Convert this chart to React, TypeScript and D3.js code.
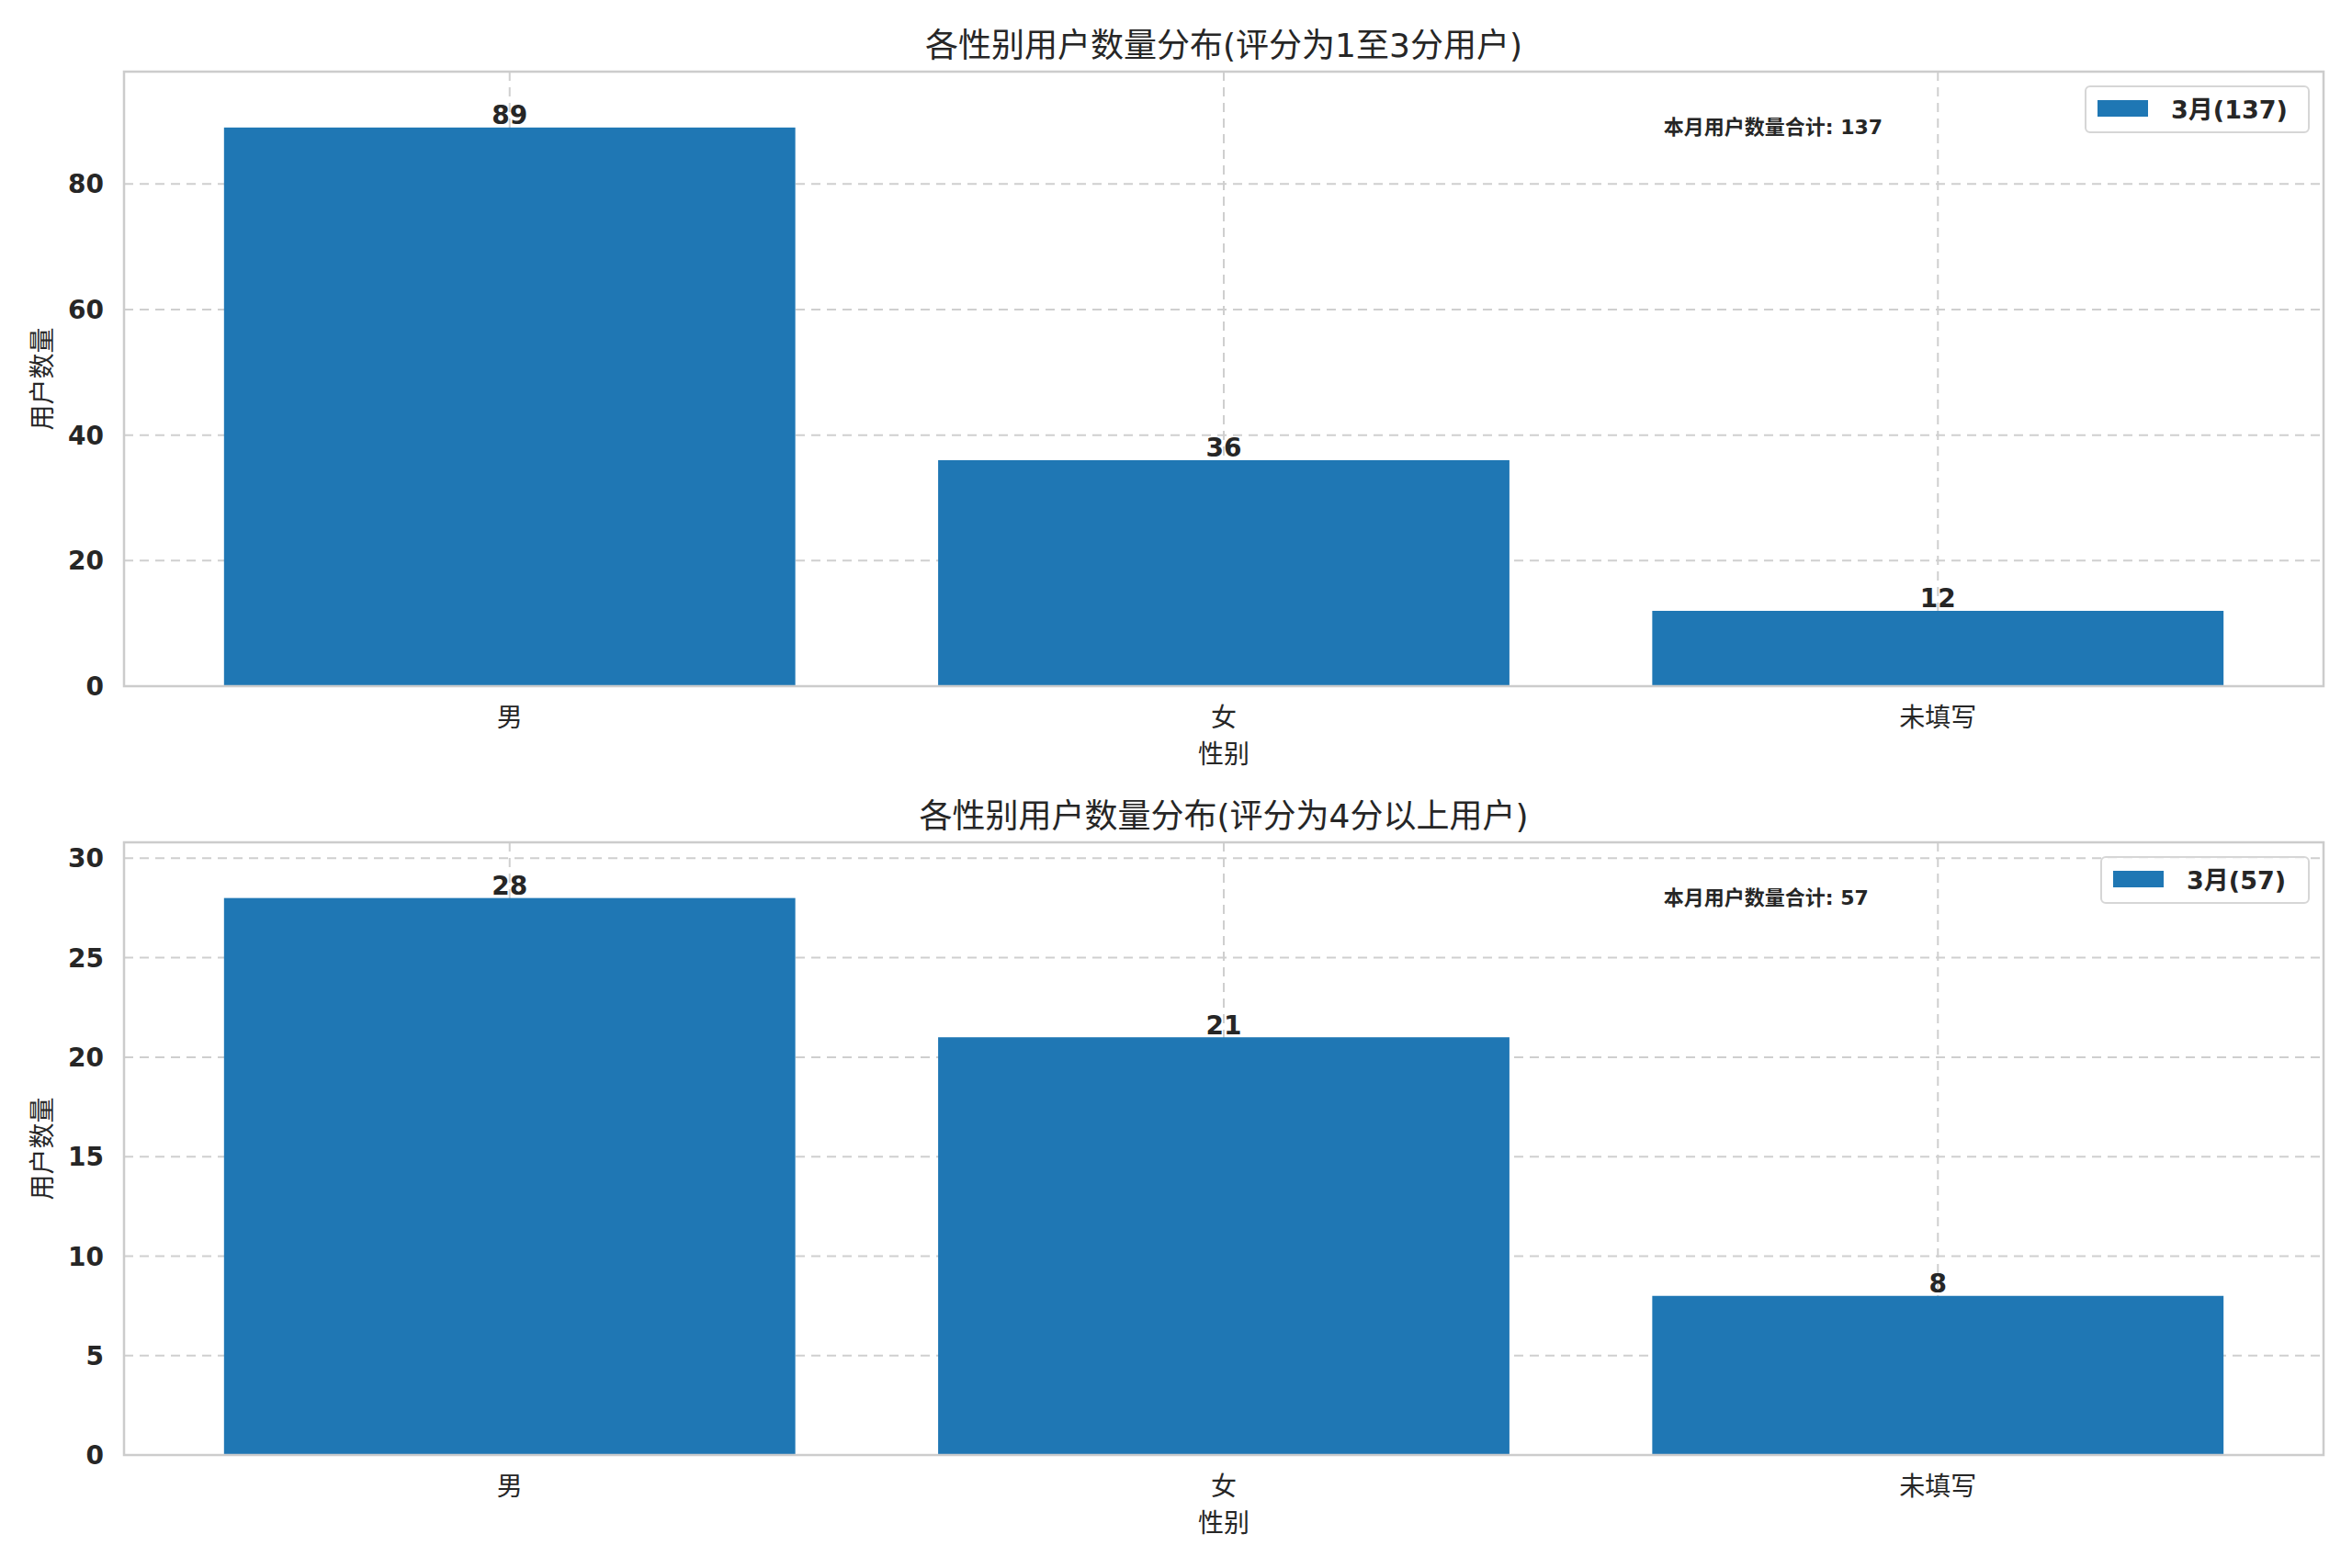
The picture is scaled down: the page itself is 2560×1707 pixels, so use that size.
import React from 'react';
import * as d3 from 'd3';

const categories = ['男', '女', '未填写'];
const countsLow = [89, 36, 12];
const countsHigh = [28, 21, 8];
const ticksLow = [0, 20, 40, 60, 80];
const ticksHigh = [0, 5, 10, 15, 20, 25, 30];
const titleLow = '各性别用户数量分布(评分为1至3分用户)';
const titleHigh = '各性别用户数量分布(评分为4分以上用户)';
const legendLow = '3月(137)';
const legendHigh = '3月(57)';
const totalLow = '本月用户数量合计: 137';
const totalHigh = '本月用户数量合计: 57';
const xLabel = '性别';
const yLabel = '用户数量';

const W = 2560;
const H = 1707;
const FONT = '"DejaVu Sans", "Noto Sans CJK SC", sans-serif';
const BAR = '#1f77b4';
const GRID = '#cfcfcf';
const SPINE = '#cccccc';
const INK = '#262626';

const left = 135;
const right = 2529;

interface PanelProps {
  top: number;
  bottom: number;
  values: number[];
  ticks: number[];
  title: string;
  legend: string;
  total: string;
}

const Panel: React.FC<PanelProps> = ({ top, bottom, values, ticks, title, legend, total }) => {
  const x = d3.scaleLinear().domain([-0.54, categories.length - 1 + 0.54]).range([left, right]);
  const yMax = (d3.max(values) || 0) * 1.1;
  const y = d3.scaleLinear().domain([0, yMax]).range([bottom, top]);
  const bw = x(0.8) - x(0);
  const midX = (left + right) / 2;

  const legW = 124 + legend.length * 17;
  const legX = right - 16 - legW;
  const legY = top + 16;

  return (
    <g>
      {/* grid */}
      {ticks.map((t) => (
        <line key={'gy' + t} x1={left} x2={right} y1={y(t)} y2={y(t)}
          stroke={GRID} strokeWidth={2} strokeDasharray="10,7" />
      ))}
      {categories.map((c, i) => (
        <line key={'gx' + c} x1={x(i)} x2={x(i)} y1={top} y2={bottom}
          stroke={GRID} strokeWidth={2} strokeDasharray="10,7" />
      ))}

      {/* bars */}
      {values.map((v, i) => (
        <rect key={'b' + i} x={x(i) - bw / 2} y={y(v)} width={bw} height={bottom - y(v)} fill={BAR} />
      ))}
      {values.map((v, i) => (
        <text key={'v' + i} x={x(i)} y={y(v) - 3.5} textAnchor="middle" fontSize={28}
          fontWeight="bold" fill={INK} fontFamily={FONT}>{v}</text>
      ))}

      {/* spines */}
      <rect x={left} y={top} width={right - left} height={bottom - top}
        fill="none" stroke={SPINE} strokeWidth={2.5} />

      {/* y ticks */}
      {ticks.map((t) => (
        <text key={'ty' + t} x={left - 22} y={y(t)} dy="0.36em" textAnchor="end" fontSize={28}
          fontWeight="bold" fill={INK} fontFamily={FONT}>{t}</text>
      ))}
      {/* x ticks */}
      {categories.map((c, i) => (
        <text key={'tx' + c} x={x(i)} y={bottom + 44} textAnchor="middle" fontSize={28}
          fill={INK} fontFamily={FONT}>{c}</text>
      ))}

      <text x={midX} y={bottom + 84} textAnchor="middle" fontSize={28} fill={INK} fontFamily={FONT}>{xLabel}</text>
      <text transform={`translate(56,${(top + bottom) / 2}) rotate(-90)`} textAnchor="middle"
        fontSize={28} fill={INK} fontFamily={FONT}>{yLabel}</text>

      <text x={midX} y={top - 16} textAnchor="middle" fontSize={36} fill={INK} fontFamily={FONT}>{title}</text>

      {/* total annotation */}
      <text x={left + 0.7 * (right - left)} y={top + 0.09 * (bottom - top)} dy="0.35em"
        fontSize={22} fontWeight="bold" fill={INK} fontFamily={FONT}>{total}</text>

      {/* legend */}
      <rect x={legX} y={legY} width={legW} height={50} rx={5} fill="white" fillOpacity={0.8}
        stroke="#d6d6d6" strokeWidth={2} />
      <rect x={legX + 13} y={legY + 15} width={55} height={18} fill={BAR} />
      <text x={legX + 93} y={legY + 25} dy="0.36em" fontSize={27} fontWeight="bold" fill={INK}
        fontFamily={FONT}>{legend}</text>
    </g>
  );
};

export default function App() {
  return (
    <svg width={W} height={H} viewBox={`0 0 ${W} ${H}`}
      style={{ position: 'absolute', left: 0, top: 0, background: 'white', display: 'block' }}>
      <rect width={W} height={H} fill="white" />
      <Panel top={78} bottom={747} values={countsLow} ticks={ticksLow}
        title={titleLow} legend={legendLow} total={totalLow} />
      <Panel top={917} bottom={1584} values={countsHigh} ticks={ticksHigh}
        title={titleHigh} legend={legendHigh} total={totalHigh} />
    </svg>
  );
}
